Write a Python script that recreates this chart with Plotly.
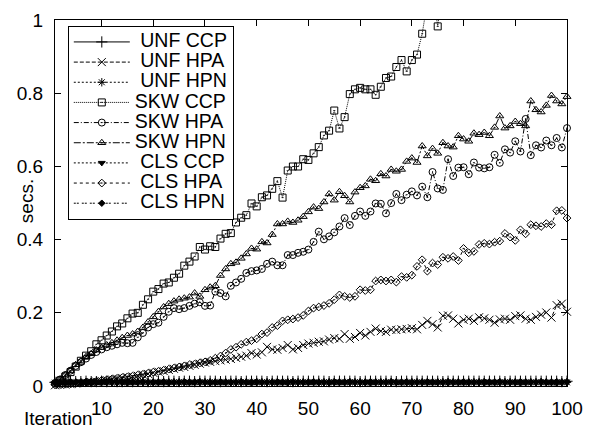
import plotly.graph_objects as go

iterations = list(range(1, 101))
x_tick_vals = [10, 20, 30, 40, 50, 60, 70, 80, 90, 100]
x_tick_text = ["10", "20", "30", "40", "50", "60", "70", "80", "90", "100"]
y_tick_vals = [0, 0.2, 0.4, 0.6, 0.8, 1.0]
y_tick_text = ["0", "0.2", "0.4", "0.6", "0.8", "1"]

unf_ccp = [
    0.010, 0.011, 0.011, 0.012, 0.012, 0.012, 0.013, 0.012, 0.012, 0.013,
    0.012, 0.013, 0.012, 0.012, 0.013, 0.012, 0.013, 0.013, 0.012, 0.013,
    0.013, 0.012, 0.013, 0.013, 0.012, 0.013, 0.013, 0.012, 0.013, 0.013,
    0.013, 0.013, 0.012, 0.013, 0.013, 0.013, 0.012, 0.013, 0.013, 0.013,
    0.013, 0.012, 0.013, 0.013, 0.013, 0.013, 0.012, 0.013, 0.013, 0.013,
    0.013, 0.013, 0.013, 0.012, 0.013, 0.013, 0.013, 0.013, 0.013, 0.012,
    0.013, 0.013, 0.013, 0.013, 0.013, 0.013, 0.012, 0.013, 0.013, 0.013,
    0.013, 0.013, 0.013, 0.013, 0.013, 0.012, 0.013, 0.013, 0.013, 0.013,
    0.013, 0.013, 0.013, 0.013, 0.013, 0.013, 0.013, 0.012, 0.013, 0.013,
    0.013, 0.013, 0.013, 0.013, 0.013, 0.013, 0.013, 0.013, 0.012, 0.013,
]
unf_hpa = [
    0.002, 0.003, 0.004, 0.005, 0.007, 0.008, 0.009, 0.011, 0.012, 0.014,
    0.016, 0.018, 0.020, 0.022, 0.024, 0.026, 0.028, 0.031, 0.033, 0.036,
    0.039, 0.041, 0.044, 0.047, 0.050, 0.052, 0.055, 0.058, 0.061, 0.064,
    0.066, 0.068, 0.070, 0.072, 0.074, 0.077, 0.080, 0.083, 0.090, 0.086,
    0.092, 0.107, 0.100, 0.099, 0.104, 0.112, 0.100, 0.104, 0.112, 0.116,
    0.118, 0.121, 0.122, 0.127, 0.131, 0.129, 0.142, 0.129, 0.134, 0.145,
    0.138, 0.148, 0.157, 0.150, 0.148, 0.154, 0.153, 0.155, 0.156, 0.158,
    0.155, 0.167, 0.178, 0.169, 0.160, 0.192, 0.193, 0.184, 0.171, 0.181,
    0.184, 0.178, 0.188, 0.185, 0.181, 0.173, 0.182, 0.184, 0.181, 0.191,
    0.193, 0.184, 0.181, 0.189, 0.195, 0.201, 0.187, 0.221, 0.225, 0.203,
]
unf_hpn = [
    0.009, 0.009, 0.010, 0.010, 0.010, 0.009, 0.010, 0.010, 0.010, 0.010,
    0.010, 0.010, 0.009, 0.010, 0.010, 0.010, 0.010, 0.010, 0.010, 0.009,
    0.010, 0.010, 0.010, 0.010, 0.010, 0.010, 0.009, 0.010, 0.010, 0.010,
    0.010, 0.010, 0.010, 0.010, 0.009, 0.010, 0.010, 0.010, 0.010, 0.010,
    0.010, 0.010, 0.010, 0.009, 0.010, 0.010, 0.010, 0.010, 0.010, 0.010,
    0.010, 0.009, 0.010, 0.010, 0.010, 0.010, 0.010, 0.010, 0.010, 0.010,
    0.009, 0.010, 0.010, 0.010, 0.010, 0.010, 0.010, 0.010, 0.009, 0.010,
    0.010, 0.010, 0.010, 0.010, 0.010, 0.010, 0.010, 0.010, 0.010, 0.009,
    0.010, 0.010, 0.010, 0.010, 0.010, 0.009, 0.010, 0.010, 0.010, 0.010,
    0.010, 0.010, 0.010, 0.010, 0.010, 0.010, 0.009, 0.010, 0.010, 0.010,
]
skw_ccp = [
    0.008, 0.015, 0.026, 0.038, 0.053, 0.069, 0.083, 0.095, 0.114, 0.125,
    0.138, 0.149, 0.163, 0.171, 0.185, 0.198, 0.200, 0.222, 0.237, 0.258,
    0.265, 0.280, 0.283, 0.296, 0.307, 0.329, 0.340, 0.354, 0.380, 0.373,
    0.382, 0.380, 0.403, 0.416, 0.418, 0.447, 0.460, 0.467, 0.499, 0.491,
    0.516, 0.521, 0.539, 0.560, 0.515, 0.589, 0.600, 0.600, 0.620, 0.618,
    0.636, 0.653, 0.685, 0.698, 0.753, 0.704, 0.735, 0.798, 0.811, 0.815,
    0.811, 0.811, 0.796, 0.818, 0.842, 0.846, 0.872, 0.891, 0.860, 0.891,
    0.906, 0.963, 1.050, 1.080, 0.983, 1.100, 1.120, 1.140, 1.150, 1.170,
    1.190, 1.200, 1.220, 1.240, 1.250, 1.270, 1.290, 1.300, 1.320, 1.340,
    1.350, 1.370, 1.390, 1.400, 1.420, 1.440, 1.450, 1.470, 1.490, 1.500,
]
skw_hpa = [
    0.008, 0.018, 0.030, 0.042, 0.055, 0.065, 0.075, 0.085, 0.093, 0.100,
    0.106, 0.110, 0.114, 0.118, 0.117, 0.118, 0.133, 0.145, 0.160, 0.169,
    0.173, 0.189, 0.203, 0.213, 0.210, 0.213, 0.219, 0.225, 0.229, 0.219,
    0.220, 0.258, 0.254, 0.245, 0.274, 0.283, 0.293, 0.309, 0.314, 0.316,
    0.320, 0.334, 0.340, 0.330, 0.330, 0.358, 0.358, 0.364, 0.367, 0.373,
    0.394, 0.422, 0.401, 0.409, 0.420, 0.436, 0.459, 0.440, 0.465, 0.477,
    0.465, 0.477, 0.499, 0.498, 0.472, 0.500, 0.525, 0.508, 0.523, 0.532,
    0.521, 0.545, 0.516, 0.585, 0.540, 0.536, 0.620, 0.574, 0.597, 0.598,
    0.579, 0.611, 0.597, 0.595, 0.598, 0.632, 0.610, 0.647, 0.638, 0.669,
    0.641, 0.730, 0.631, 0.658, 0.652, 0.671, 0.658, 0.678, 0.652, 0.705,
]
skw_hpn = [
    0.008, 0.018, 0.030, 0.042, 0.058, 0.068, 0.080, 0.088, 0.098, 0.105,
    0.112, 0.118, 0.125, 0.132, 0.138, 0.142, 0.149, 0.160, 0.175, 0.189,
    0.203, 0.216, 0.225, 0.232, 0.237, 0.240, 0.243, 0.254, 0.245, 0.263,
    0.270, 0.274, 0.302, 0.320, 0.334, 0.338, 0.349, 0.361, 0.376, 0.374,
    0.394, 0.391, 0.414, 0.443, 0.443, 0.450, 0.447, 0.453, 0.463, 0.476,
    0.489, 0.485, 0.503, 0.525, 0.508, 0.531, 0.520, 0.503, 0.530, 0.542,
    0.547, 0.565, 0.561, 0.580, 0.574, 0.592, 0.587, 0.592, 0.614, 0.623,
    0.611, 0.656, 0.629, 0.649, 0.636, 0.665, 0.656, 0.653, 0.684, 0.675,
    0.669, 0.691, 0.687, 0.693, 0.684, 0.707, 0.738, 0.705, 0.711, 0.723,
    0.717, 0.711, 0.779, 0.755, 0.749, 0.767, 0.794, 0.779, 0.771, 0.791,
]
cls_ccp = [
    0.007, 0.008, 0.008, 0.008, 0.008, 0.008, 0.008, 0.007, 0.008, 0.008,
    0.008, 0.008, 0.008, 0.008, 0.007, 0.008, 0.008, 0.008, 0.008, 0.008,
    0.008, 0.008, 0.007, 0.008, 0.008, 0.008, 0.008, 0.008, 0.008, 0.008,
    0.007, 0.008, 0.008, 0.008, 0.008, 0.008, 0.008, 0.008, 0.007, 0.008,
    0.008, 0.008, 0.008, 0.008, 0.008, 0.007, 0.008, 0.008, 0.008, 0.008,
    0.008, 0.008, 0.008, 0.007, 0.008, 0.008, 0.008, 0.008, 0.008, 0.008,
    0.008, 0.007, 0.008, 0.008, 0.008, 0.008, 0.008, 0.008, 0.008, 0.007,
    0.008, 0.008, 0.008, 0.008, 0.008, 0.008, 0.007, 0.008, 0.008, 0.008,
    0.008, 0.008, 0.008, 0.007, 0.008, 0.008, 0.008, 0.008, 0.008, 0.008,
    0.007, 0.008, 0.008, 0.008, 0.008, 0.008, 0.008, 0.007, 0.008, 0.008,
]
cls_hpa = [
    0.003, 0.004, 0.005, 0.006, 0.007, 0.008, 0.010, 0.011, 0.013, 0.015,
    0.017, 0.019, 0.021, 0.023, 0.025, 0.027, 0.030, 0.032, 0.035, 0.038,
    0.040, 0.043, 0.046, 0.049, 0.052, 0.055, 0.058, 0.060, 0.063, 0.066,
    0.070, 0.076, 0.082, 0.090, 0.100, 0.106, 0.114, 0.120, 0.124, 0.129,
    0.142, 0.146, 0.160, 0.165, 0.178, 0.181, 0.183, 0.187, 0.193, 0.205,
    0.213, 0.216, 0.220, 0.226, 0.236, 0.249, 0.245, 0.242, 0.245, 0.263,
    0.261, 0.263, 0.287, 0.290, 0.287, 0.290, 0.284, 0.299, 0.297, 0.303,
    0.327, 0.345, 0.314, 0.336, 0.332, 0.352, 0.349, 0.354, 0.343, 0.376,
    0.364, 0.368, 0.387, 0.390, 0.388, 0.393, 0.396, 0.417, 0.407, 0.398,
    0.427, 0.416, 0.441, 0.438, 0.436, 0.444, 0.441, 0.479, 0.480, 0.459,
]
cls_hpn = [
    0.011, 0.011, 0.011, 0.012, 0.011, 0.011, 0.012, 0.011, 0.011, 0.011,
    0.012, 0.011, 0.011, 0.011, 0.012, 0.011, 0.011, 0.012, 0.011, 0.011,
    0.011, 0.012, 0.011, 0.011, 0.011, 0.012, 0.011, 0.011, 0.012, 0.011,
    0.011, 0.011, 0.012, 0.011, 0.011, 0.011, 0.012, 0.011, 0.011, 0.012,
    0.011, 0.011, 0.011, 0.012, 0.011, 0.011, 0.012, 0.011, 0.011, 0.011,
    0.012, 0.011, 0.011, 0.011, 0.012, 0.011, 0.011, 0.012, 0.011, 0.011,
    0.011, 0.012, 0.011, 0.011, 0.011, 0.012, 0.011, 0.011, 0.012, 0.011,
    0.011, 0.011, 0.012, 0.011, 0.011, 0.011, 0.012, 0.011, 0.011, 0.012,
    0.011, 0.011, 0.011, 0.012, 0.011, 0.011, 0.012, 0.011, 0.011, 0.011,
    0.012, 0.011, 0.011, 0.011, 0.012, 0.011, 0.011, 0.012, 0.011, 0.012,
]

series_names = ["UNF CCP", "UNF HPA", "UNF HPN", "SKW CCP", "SKW HPA",
                "SKW HPN", "CLS CCP", "CLS HPA", "CLS HPN"]
series_values = [unf_ccp, unf_hpa, unf_hpn, skw_ccp, skw_hpa,
                 skw_hpn, cls_ccp, cls_hpa, cls_hpn]
# leading non-breaking spaces to imitate the right-justified key text
name_pads = [1, 1, 1, 0, 0, 0, 1, 1, 1]

dashes = ["solid", "4px,2px", "2px,2px", "1px,1px", "5px,2px,1px,2px",
          "7px,2px,2px,2px", "2px,2px", "3px,3px", "2px,1px,2px,3px"]
symbols = ["cross-thin-open", "x-thin-open", "asterisk-open", "square-open-dot",
           "circle-open-dot", "triangle-up-open-dot", "triangle-down",
           "diamond-open-dot", "diamond"]
sizes = [8, 8, 7, 7, 7, 7, 6, 6, 5]

FONT = "Liberation Sans, Arial, Helvetica, sans-serif"

fig = go.Figure()
for name, pad, vals, dash, sym, sz in zip(series_names, name_pads, series_values,
                                          dashes, symbols, sizes):
    fig.add_trace(go.Scatter(
        x=iterations, y=vals, mode="lines+markers",
        name='<span style="font-size:19.5px">' + "\u00a0" * pad + name + '</span>',
        line=dict(color="black", width=1, dash=dash),
        marker=dict(symbol=sym, size=sz, color="black",
                    line=dict(color="black", width=1)),
        cliponaxis=(name == "SKW CCP"),
    ))

fig.update_layout(
    width=605, height=429,
    margin=dict(l=55, r=38, t=10, b=43),
    paper_bgcolor="white", plot_bgcolor="white",
    font=dict(family=FONT, size=19, color="black"),
    showlegend=True,
    legend=dict(
        x=0.025, y=0.984, xanchor="left", yanchor="top",
        bgcolor="white", bordercolor="black", borderwidth=1,
        font=dict(family=FONT, size=13.2, color="black"),
        itemwidth=56, tracegroupgap=0,
    ),
    xaxis=dict(
        range=[1, 100], tickmode="array", tickvals=x_tick_vals, ticktext=x_tick_text,
        ticks="inside", ticklen=6, tickcolor="black", showline=True, linecolor="black",
        linewidth=1, mirror="ticks", showgrid=False, zeroline=False,
        tickfont=dict(family=FONT, size=19), ticklabelstandoff=5,
        ticklabeloverflow="allow",
    ),
    yaxis=dict(
        range=[0, 1.0005], tickmode="array", tickvals=y_tick_vals, ticktext=y_tick_text,
        ticks="inside", ticklen=6, tickcolor="black", showline=True, linecolor="black",
        linewidth=1, mirror="ticks", showgrid=False, zeroline=False,
        tickfont=dict(family=FONT, size=19), ticklabelstandoff=7,
        ticklabeloverflow="allow",
    ),
    annotations=[
        dict(text="Iteration", xref="paper", yref="paper", x=0.078, y=-0.088,
             xanchor="right", yanchor="middle", showarrow=False,
             font=dict(family=FONT, size=19)),
        dict(text="secs.", xref="paper", yref="paper", x=-0.0566, y=0.505,
             xanchor="center", yanchor="middle", textangle=-90, showarrow=False,
             font=dict(family=FONT, size=19)),
    ],
)

fig.write_html("out.html")
